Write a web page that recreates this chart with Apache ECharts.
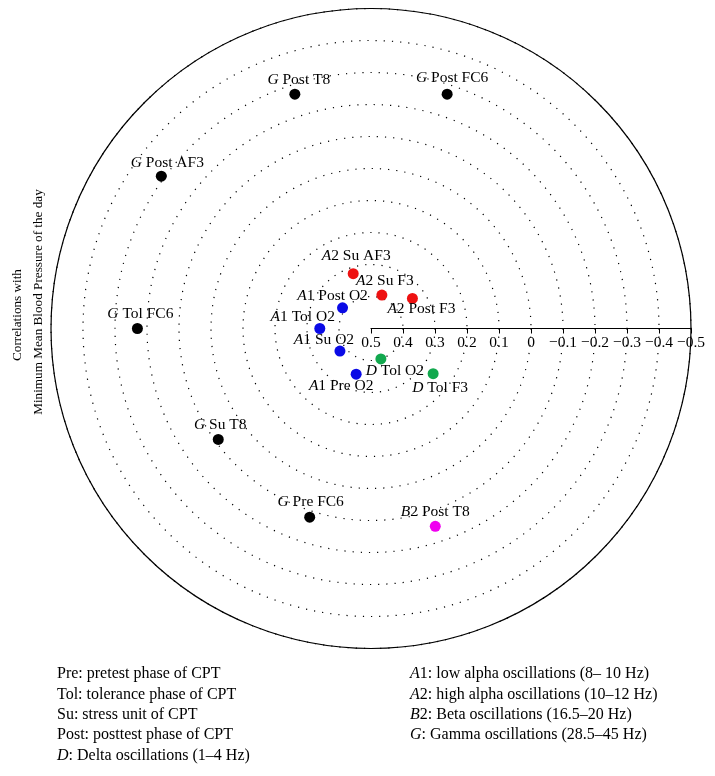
<!DOCTYPE html>
<html>
<head>
<meta charset="utf-8">
<script src="https://cdn.jsdelivr.net/npm/echarts@6/dist/echarts.min.js"></script>
<style>
html,body{margin:0;padding:0;background:#fff;}
#main{width:715px;height:776px;}
</style>
</head>
<body>
<div id="main"></div>
<script>
// ---- data ----
const pointBands = ['G','G','G','G','G','G','B2','A2','A2','A2','A1','A1','A1','A1','D','D'];
const pointNames = ['Post T8','Post FC6','Post AF3','Tol FC6','Su T8','Pre FC6','Post T8','Su AF3','Su F3','Post F3','Post O2','Tol O2','Su O2','Pre O2','Tol O2','Tol F3'];
const pointCorr  = [-0.27,-0.27,-0.31,-0.23,-0.09,-0.12,-0.15,0.32,0.39,0.34,0.39,0.34,0.38,0.35,0.40,0.26];
const pointAngle = [108,72,144,180,216,252,288,108,72,36,144,180,216,252,288,324];
const radiusTicks = [0.5,0.4,0.3,0.2,0.1,0,-0.1,-0.2,-0.3,-0.4,-0.5];
const bandOrder = ['G','B2','A2','A1','D'];
const axisTitle = ['Correlations with','Minimum Mean Blood Pressure of the day'];
const notesLeft = [['','Pre: pretest phase of CPT'],['','Tol: tolerance phase of CPT'],['','Su: stress unit of CPT'],['','Post: posttest phase of CPT'],['D',': Delta oscillations (1–4 Hz)']];
const notesRight = [['A1',': low alpha oscillations (8– 10 Hz)'],['A2',': high alpha oscillations (10–12 Hz)'],['B2',': Beta oscillations (16.5–20 Hz)'],['G',': Gamma oscillations (28.5–45 Hz)']];

// ---- layout / style ----
const bandColor = {G:'#000000', B2:'#f000f0', A2:'#ee1111', A1:'#0a0ae6', D:'#12a84e'};
const labelOffsets = [[4,-14],[5,-16],[6,-13],[3,-15],[2,-15],[1,-15],[0,-14],[3,-18],[3,-14],[9,11],[-10,-12],[-17,-12],[-16,-11],[-15,12],[14,12],[7,14]];
const FONT = 'Liberation Serif';
const CX = 371, CY = 328.5, R = 320;
const LBL = 15.5;

function fmtTick(v){
  if (Math.abs(v) < 1e-9) return '0';
  return (v < 0 ? '\u2212' : '') + Math.abs(v).toFixed(1);
}
function itLabel(b){ return b.replace(/^([A-Z])(\d?)$/, '{i|$1}$2'); }

const series = bandOrder.map(b => {
  const data = [];
  pointBands.forEach((pb, i) => {
    if (pb !== b) return;
    data.push({
      value: [pointCorr[i], pointAngle[i]],
      name: pb + ' ' + pointNames[i],
      label: {offset: labelOffsets[i], formatter: itLabel(pb) + ' ' + pointNames[i]}
    });
  });
  return {
    type: 'scatter', coordinateSystem: 'polar', name: b,
    symbolSize: 11, itemStyle: {color: bandColor[b], opacity: 1},
    data: data,
    label: {show: true, position: 'inside', color: '#000', fontFamily: FONT, fontSize: LBL,
      rich: {i: {fontStyle: 'italic', fontFamily: FONT, fontSize: LBL, color: '#000'}}},
    emphasis: {disabled: true}, z: 5
  };
});

const graphics = [];
const titleY = [315, 302];
axisTitle.forEach((t, k) => {
  graphics.push({type:'text', x: 18 + k*21, y: titleY[k], rotation: Math.PI/2,
    style:{text: t, fontFamily: FONT, fontSize: 13.2, fill:'#000', align:'center', verticalAlign:'middle'}});
});
function noteRich(pair){ return (pair[0] ? '{i|' + pair[0].replace(/\d/, '') + '}' + pair[0].replace(/^[A-Z]/, '') : '') + pair[1]; }
const NOTE = 16;
notesLeft.forEach((p, k) => {
  graphics.push({type:'text', x: 57, y: 674 + k*20.4,
    style:{text: noteRich(p), fontFamily: FONT, fontSize: NOTE, fill:'#000', verticalAlign:'middle',
      rich:{i:{fontStyle:'italic', fontFamily: FONT, fontSize: NOTE, fill:'#000'}}}});
});
notesRight.forEach((p, k) => {
  graphics.push({type:'text', x: 410, y: 674 + k*20.4,
    style:{text: noteRich(p), fontFamily: FONT, fontSize: NOTE, fill:'#000', verticalAlign:'middle',
      rich:{i:{fontStyle:'italic', fontFamily: FONT, fontSize: NOTE, fill:'#000'}}}});
});

const chart = echarts.init(document.getElementById('main'), null, {renderer:'canvas'});
chart.setOption({
  animation: false,
  backgroundColor: '#fff',
  textStyle: {fontFamily: FONT},
  polar: {center: [CX, CY], radius: R},
  angleAxis: {
    type: 'value', min: 0, max: 360, startAngle: 0, clockwise: false,
    axisLine: {show: true, lineStyle: {color: '#000', width: 1.2}},
    axisTick: {show: false}, axisLabel: {show: false}, splitLine: {show: false}
  },
  radiusAxis: {
    type: 'value', inverse: true,
    min: radiusTicks[radiusTicks.length-1], max: radiusTicks[0], interval: 0.1,
    axisLine: {show: true, lineStyle: {color: '#000', width: 1.2}},
    axisTick: {show: true, inside: false, length: -5, lineStyle: {color: '#000', width: 1}},
    axisLabel: {show: true, inside: false, formatter: fmtTick, color: '#000', fontFamily: FONT, fontSize: LBL, margin: -22},
    splitLine: {show: true, lineStyle: {color: '#000', type: [1.2, 7], width: 1.2}},
    z: 3
  },
  graphic: graphics,
  series: series
});
</script>
</body>
</html>
